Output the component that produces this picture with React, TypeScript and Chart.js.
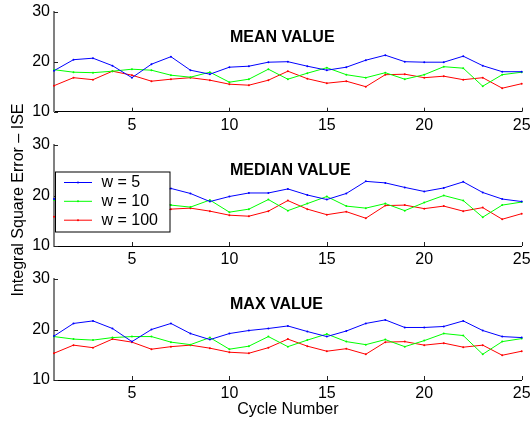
import React, { useEffect, useRef } from "react";
import { Chart, registerables } from "chart.js";

Chart.register(...registerables);

// ---------- data ----------
const cycles = [1, 2, 3, 4, 5, 6, 7, 8, 9, 10, 11, 12, 13, 14, 15, 16, 17, 18, 19, 20, 21, 22, 23, 24, 25];
const xTickValues = [5, 10, 15, 20, 25];
const yTickValues = [10, 20, 30];
const seriesLabels = ["w = 5", "w = 10", "w = 100"];
const seriesColors = ["#0000ff", "#00ff00", "#ff0000"];
const panelTitles = ["MEAN VALUE", "MEDIAN VALUE", "MAX VALUE"];
const yAxisLabel = "Integral Square Error – ISE";
const xAxisLabel = "Cycle Number";

const meanW5 = [18.2, 20.4, 20.7, 19.2, 16.8, 19.5, 21.0, 18.3, 17.5, 18.9, 19.1, 19.9, 20.0, 19.1, 18.3, 18.9, 20.3, 21.3, 20.0, 19.9, 19.9, 21.1, 19.2, 18.0, 18.0];
const meanW10 = [18.4, 17.9, 17.8, 18.1, 18.5, 18.3, 17.3, 16.9, 17.9, 15.9, 16.5, 18.5, 16.5, 17.7, 18.8, 17.4, 16.8, 17.8, 16.5, 17.4, 19.0, 18.7, 15.1, 17.4, 17.9];
const meanW100 = [15.2, 16.8, 16.4, 18.1, 17.3, 16.1, 16.5, 16.8, 16.3, 15.5, 15.3, 16.3, 18.1, 16.6, 15.7, 16.1, 15.0, 17.4, 17.5, 16.8, 17.1, 16.4, 16.8, 14.7, 15.6];

const medianW5 = [19.3, 20.8, 21.2, 20.0, 17.8, 20.3, 21.4, 20.4, 18.8, 19.8, 20.5, 20.5, 21.3, 20.1, 19.2, 20.4, 22.8, 22.5, 21.6, 20.8, 21.5, 22.7, 20.6, 19.3, 18.8];
const medianW10 = [19.1, 18.4, 18.2, 18.5, 18.8, 18.6, 18.1, 17.7, 19.1, 16.7, 17.3, 19.2, 17.0, 18.4, 19.8, 17.9, 17.5, 18.4, 17.0, 18.6, 20.0, 19.0, 15.7, 18.1, 18.7];
const medianW100 = [15.8, 17.1, 16.6, 18.3, 17.6, 16.4, 17.3, 17.5, 16.9, 16.1, 15.9, 16.9, 19.0, 17.3, 16.2, 16.8, 15.5, 18.0, 18.1, 17.4, 17.9, 16.9, 17.6, 15.3, 16.4];

const maxW5 = [18.7, 21.2, 21.7, 20.2, 17.6, 20.0, 21.2, 19.2, 18.0, 19.2, 19.8, 20.2, 20.7, 19.6, 18.6, 19.7, 21.2, 21.9, 20.4, 20.4, 20.6, 21.7, 19.8, 18.6, 18.4];
const maxW10 = [18.6, 18.1, 17.9, 18.4, 18.6, 18.6, 17.5, 17.0, 18.4, 16.1, 16.7, 18.6, 16.6, 17.9, 19.1, 17.6, 17.0, 18.0, 16.6, 17.8, 19.2, 18.8, 15.1, 17.6, 18.2];
const maxW100 = [15.3, 16.9, 16.4, 18.1, 17.5, 16.1, 16.6, 16.9, 16.3, 15.5, 15.3, 16.4, 18.1, 16.7, 15.7, 16.2, 15.1, 17.5, 17.6, 16.9, 17.3, 16.5, 16.9, 14.9, 15.7];

const panelSeries = [
  [meanW5, meanW10, meanW100],
  [medianW5, medianW10, medianW100],
  [maxW5, maxW10, maxW100],
];

// ---------- layout ----------
const W = 531;
const H = 421;
const FONT = "'Liberation Sans', Arial, Helvetica, sans-serif";
const panels = [
  { top: 11.7, bottom: 111.7 },
  { top: 145, bottom: 246 },
  { top: 279, bottom: 380 },
];
const AXIS_LEFT = 54;
const AXIS_RIGHT = 521.7;

function makeChart(canvas: HTMLCanvasElement, idx: number) {
  const isLast = idx === panels.length - 1;
  const isLegendPanel = idx === 1;
  const xh = isLast ? H - panels[idx].bottom : 20;
  const padBottom = H - panels[idx].bottom - xh;

  const datasets = panelSeries[idx].map((vals, s) => ({
    label: seriesLabels[s],
    data: cycles.map((c, i) => ({ x: c, y: vals[i] })),
    borderColor: seriesColors[s],
    backgroundColor: seriesColors[s],
    borderWidth: 1,
    pointRadius: 1,
    pointBorderWidth: 0,
    pointBackgroundColor: seriesColors[s],
    tension: 0,
    clip: false as any,
  }));

  const decorPlugin = {
    id: "decor" + idx,
    afterDraw(chart: any) {
      const ctx = chart.ctx;
      const { left, bottom, top } = chart.chartArea;
      const xs = chart.scales.x;
      const ys = chart.scales.y;
      ctx.save();
      // inward tick marks
      ctx.strokeStyle = "#222";
      ctx.lineWidth = 1;
      ctx.beginPath();
      xTickValues.forEach((v) => {
        const px = Math.round(xs.getPixelForValue(v)) + 0.5;
        ctx.moveTo(px, bottom);
        ctx.lineTo(px, bottom - 4);
      });
      yTickValues.forEach((v) => {
        const py = Math.round(ys.getPixelForValue(v)) + 0.5;
        ctx.moveTo(left, py);
        ctx.lineTo(left + 4, py);
      });
      ctx.stroke();
      // panel title
      ctx.fillStyle = "#000";
      ctx.font = "bold 16px " + FONT;
      ctx.textAlign = "left";
      ctx.textBaseline = "middle";
      ctx.fillText(panelTitles[idx], 230, top + 25.5);

      if (isLegendPanel) {
        // legend box
        const bx = 55, by = 171.5, bw = 114.5, bh = 60;
        ctx.fillStyle = "#fff";
        ctx.fillRect(bx, by, bw, bh);
        ctx.strokeStyle = "#000";
        ctx.lineWidth = 1;
        ctx.strokeRect(bx + 0.5, by + 0.5, bw, bh);
        const rows = [182.5, 201.3, 220.2];
        chart.data.datasets.forEach((ds: any, i: number) => {
          const y = rows[i];
          ctx.strokeStyle = ds.borderColor;
          ctx.lineWidth = 1;
          ctx.beginPath();
          ctx.moveTo(64, y);
          ctx.lineTo(92, y);
          ctx.stroke();
          ctx.fillStyle = ds.borderColor;
          ctx.beginPath();
          ctx.arc(78, y, 1, 0, Math.PI * 2);
          ctx.fill();
          ctx.fillStyle = "#000";
          ctx.font = "16px " + FONT;
          ctx.textAlign = "left";
          ctx.textBaseline = "middle";
          ctx.fillText(ds.label, 101.5, y + 0.5);
        });
        // y axis label
        ctx.save();
        ctx.translate(18.5, 200);
        ctx.rotate(-Math.PI / 2);
        ctx.fillStyle = "#000";
        ctx.font = "16px " + FONT;
        ctx.textAlign = "center";
        ctx.textBaseline = "middle";
        ctx.fillText(yAxisLabel, 0, 0);
        ctx.restore();
      }
      ctx.restore();
    },
  };

  return new Chart(canvas, {
    type: "line",
    data: { datasets },
    plugins: [decorPlugin],
    options: {
      animation: false,
      responsive: false,
      events: [],
      layout: {
        padding: {
          left: 0,
          right: W - AXIS_RIGHT,
          top: panels[idx].top,
          bottom: padBottom,
        },
      },
      plugins: {
        legend: { display: false },
        title: { display: false },
        tooltip: { enabled: false },
      },
      scales: {
        x: {
          type: "linear",
          min: 1,
          max: 25,
          grid: { display: false, drawTicks: false },
          border: { display: true, color: "#000", width: 1 },
          ticks: {
            color: "#000",
            padding: 4,
            font: { family: FONT, size: 16 },
            maxRotation: 0,
          },
          afterBuildTicks: (s: any) => {
            s.ticks = xTickValues.map((v) => ({ value: v }));
          },
          afterFit: (s: any) => {
            s.height = xh;
            s.paddingLeft = 0;
            s.paddingRight = 0;
          },
          title: {
            display: isLast,
            text: xAxisLabel,
            color: "#000",
            font: { family: FONT, size: 16 },
            padding: { top: 0, bottom: 2 },
          },
        },
        y: {
          type: "linear",
          min: 10,
          max: 30,
          grid: { display: false, drawTicks: false },
          border: { display: true, color: "#808080", width: 2 },
          ticks: {
            color: "#000",
            padding: 4,
            font: { family: FONT, size: 16 },
          },
          afterBuildTicks: (s: any) => {
            s.ticks = yTickValues.map((v) => ({ value: v }));
          },
          afterFit: (s: any) => {
            s.width = AXIS_LEFT;
            s.paddingTop = 0;
            s.paddingBottom = 0;
          },
        },
      },
    },
  } as any);
}

function Panel({ idx }: { idx: number }) {
  const ref = useRef<HTMLCanvasElement | null>(null);
  useEffect(() => {
    if (!ref.current) return;
    const chart = makeChart(ref.current, idx);
    return () => chart.destroy();
  }, [idx]);
  return (
    <canvas
      ref={ref}
      width={W}
      height={H}
      style={{ position: "absolute", left: 0, top: 0, width: W, height: H }}
    />
  );
}

export default function App() {
  return (
    <div style={{ position: "absolute", left: 0, top: 0, width: W, height: H, background: "#fff" }}>
      {panels.map((_, i) => (
        <Panel key={i} idx={i} />
      ))}
    </div>
  );
}
